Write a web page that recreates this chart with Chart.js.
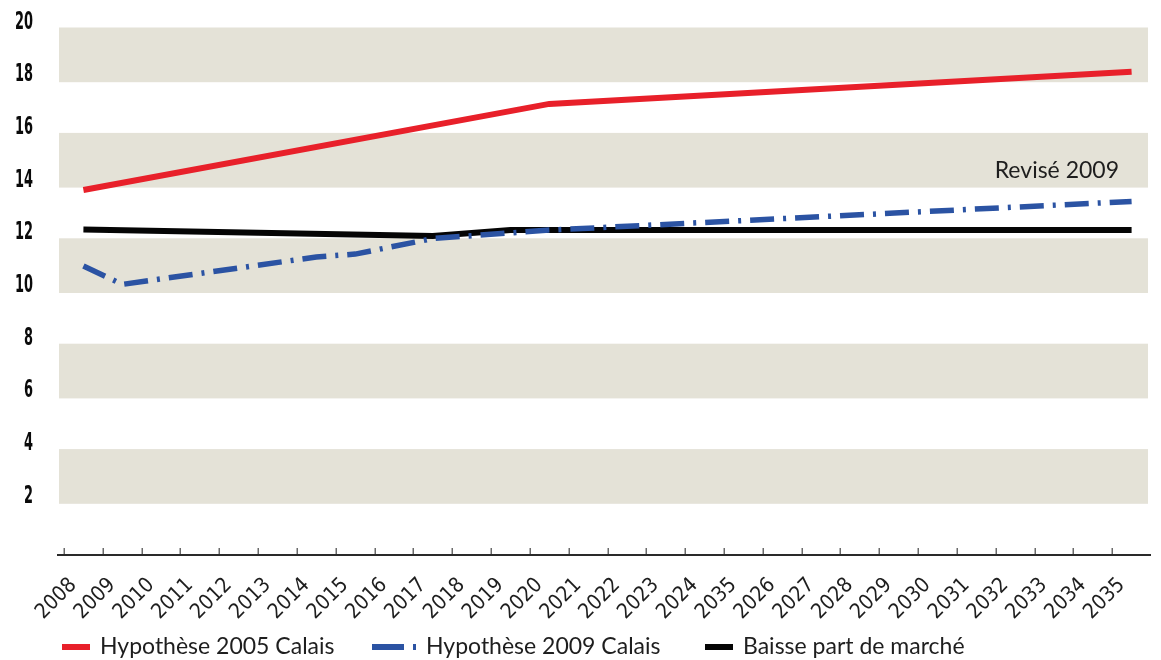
<!DOCTYPE html>
<html>
<head>
<meta charset="utf-8">
<script src="https://cdn.jsdelivr.net/npm/chart.js@4.4.1/dist/chart.umd.min.js"></script>
<style>
  html, body { margin: 0; padding: 0; background: #ffffff; }
  #wrap { width: 1161px; height: 660px; position: relative; }
</style>
</head>
<body>
<div id="wrap"><canvas id="chart"></canvas></div>
<script>
// Years shown on the horizontal axis (labels kept as printed)
const years = ['2008','2009','2010','2011','2012','2013','2014','2015','2016','2017',
  '2018','2019','2020','2021','2022','2023','2024','2035','2026','2027','2028',
  '2029','2030','2031','2032','2033','2034','2035'];

// Series values (break points only; the line joins them straight)
const hyp2005 = [13.85, null, null, null, null, null, null, null, null, null, null, null,
  17.12, null, null, null, null, null, null, null, null, null, null, null, null, null, null, 18.34];
const hyp2009 = [10.97, 10.27, null, null, null, null, 11.31, 11.42, null, 12.01, null, null,
  12.33, null, null, null, null, null, null, null, null, null, null, null, null, null, null, 13.42];
const baisse = [12.35, null, null, null, null, null, null, null, null, 12.11, null, 12.33,
  null, null, null, null, null, null, null, null, null, null, null, null, null, null, null, 12.33];

// Vertical axis tick values
const yTicks = [2, 4, 6, 8, 10, 12, 14, 16, 18, 20];

// Series names and note
const seriesNames = ['Hypothèse 2005 Calais', 'Hypothèse 2009 Calais', 'Baisse part de marché'];
const noteText = 'Revisé 2009';

// Shaded horizontal zones [low, high]
const zones = [[18, 20], [14, 16], [10, 12], [6, 8], [2, 4]];

const BAND = '#e4e2d7';
const TEXT = '#1e1e1e';
const LEGEND_FONT = '23px Lato, "Liberation Sans", sans-serif';
const Y_FONT = 'bold 25px "DejaVu Sans Condensed", "DejaVu Sans", sans-serif';

const decor = {
  id: 'decor',
  beforeDatasetsDraw(chart) {
    const { ctx, chartArea } = chart;
    const ys = chart.scales.y;
    ctx.save();
    ctx.fillStyle = BAND;
    zones.forEach(([lo, hi]) => {
      const top = ys.getPixelForValue(hi) - 0.5;
      const bottom = ys.getPixelForValue(lo) + 1.5;
      ctx.fillRect(chartArea.left - 5, top, chartArea.right - 3 - (chartArea.left - 5), bottom - top);
    });
    ctx.restore();
  },
  afterDatasetsDraw(chart) {
    const { ctx, chartArea } = chart;
    const xs = chart.scales.x;
    const ys = chart.scales.y;
    ctx.save();
    // vertical axis labels: bold, narrow figures, right-aligned
    ctx.fillStyle = '#0a0a0a';
    ctx.font = Y_FONT;
    ctx.textAlign = 'right';
    ctx.textBaseline = 'middle';
    ys.ticks.forEach(t => {
      const txt = String(t.value);
      const w = ctx.measureText(txt).width;
      const sx = Math.min(1, (9 * txt.length) / w);
      const y = ys.getPixelForValue(t.value) - 6;
      ctx.save();
      ctx.translate(33, y);
      ctx.scale(sx, 1);
      ctx.fillText(txt, 0, 0);
      ctx.restore();
    });
    // axis line
    ctx.strokeStyle = '#2a2a2a';
    ctx.lineWidth = 2;
    ctx.beginPath();
    ctx.moveTo(chartArea.left - 7, chartArea.bottom);
    ctx.lineTo(chartArea.right, chartArea.bottom);
    ctx.stroke();
    // inward tick marks at category boundaries
    const step = xs.getPixelForValue(1) - xs.getPixelForValue(0);
    ctx.strokeStyle = '#6a6a6a';
    ctx.lineWidth = 1.5;
    for (let i = 0; i < years.length; i++) {
      const x = Math.round(xs.getPixelForValue(i) - step / 2) + 0.25;
      ctx.beginPath();
      ctx.moveTo(x, chartArea.bottom - 1);
      ctx.lineTo(x, chartArea.bottom - 7);
      ctx.stroke();
    }
    // note
    ctx.fillStyle = TEXT;
    ctx.font = LEGEND_FONT;
    ctx.textAlign = 'right';
    ctx.textBaseline = 'alphabetic';
    ctx.fillText(noteText, chartArea.right - 32, 178);
    // legend
    const itemX = [62, 372, 705];
    const ly = 647;
    ctx.textAlign = 'left';
    ctx.textBaseline = 'middle';
    chart.data.datasets.forEach((ds, i) => {
      const x0 = itemX[i];
      ctx.strokeStyle = ds.borderColor;
      ctx.lineWidth = 6;
      ctx.lineCap = 'butt';
      let len = 28;
      if (ds.borderDash && ds.borderDash.length) {
        ctx.setLineDash([32, 9, 3, 9]);
        len = 44;
      } else {
        ctx.setLineDash([]);
      }
      ctx.beginPath();
      ctx.moveTo(x0, ly);
      ctx.lineTo(x0 + len, ly);
      ctx.stroke();
      ctx.setLineDash([]);
      ctx.fillStyle = TEXT;
      ctx.fillText(ds.label, x0 + len + 10, ly);
    });
    ctx.restore();
  }
};

new Chart(document.getElementById('chart'), {
  type: 'line',
  data: {
    labels: years,
    datasets: [
      { label: seriesNames[0], data: hyp2005, borderColor: '#e8202a', borderWidth: 6,
        pointRadius: 0, tension: 0, spanGaps: true, borderCapStyle: 'butt' },
      { label: seriesNames[1], data: hyp2009, borderColor: '#2b53a3', borderWidth: 5.5,
        borderDash: [24, 9, 3, 9], pointRadius: 0, tension: 0, spanGaps: true, borderCapStyle: 'butt' },
      { label: seriesNames[2], data: baisse, borderColor: '#050505', borderWidth: 6,
        pointRadius: 0, tension: 0, spanGaps: true, borderCapStyle: 'butt' }
    ]
  },
  options: {
    responsive: true,
    maintainAspectRatio: false,
    animation: false,
    devicePixelRatio: 1,
    layout: { padding: { top: 28, right: 10, bottom: 0, left: 0 } },
    plugins: { legend: { display: false }, tooltip: { enabled: false } },
    scales: {
      x: {
        type: 'category',
        offset: true,
        grid: { display: false },
        border: { display: false },
        ticks: {
          autoSkip: false,
          maxRotation: 45,
          minRotation: 45,
          padding: 10,
          labelOffset: -10,
          color: TEXT,
          font: { family: '"Liberation Sans Narrow", "DejaVu Sans Condensed", sans-serif', size: 21 }
        },
        afterFit(s) { s.height = 105; }
      },
      y: {
        min: 0,
        max: 20,
        afterBuildTicks(s) { s.ticks = yTicks.map(v => ({ value: v })); },
        grid: { display: false, drawTicks: false },
        border: { display: false },
        ticks: { display: false },
        afterFit(s) { s.width = 64; s.paddingTop = 0; s.paddingBottom = 0; }
      }
    }
  },
  plugins: [decor]
});
</script>
</body>
</html>
